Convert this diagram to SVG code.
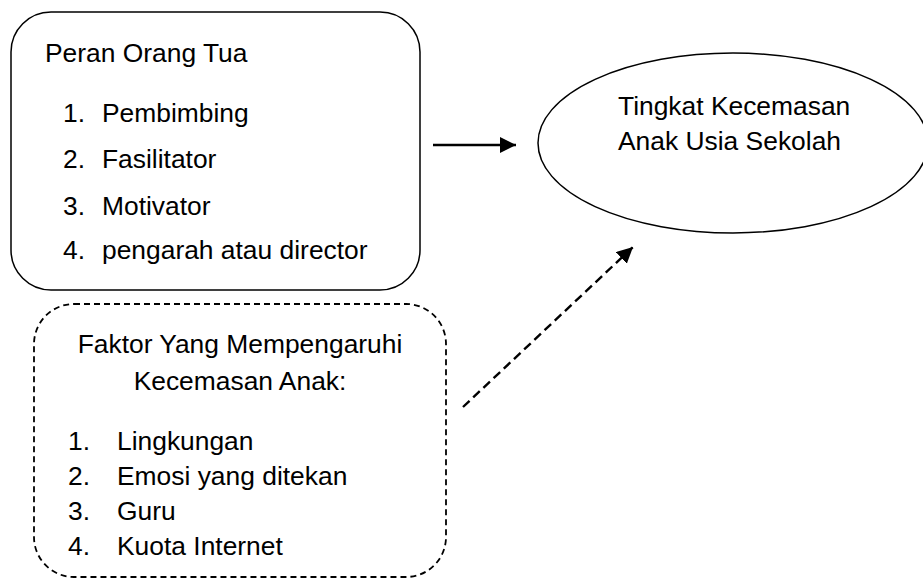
<svg xmlns="http://www.w3.org/2000/svg" width="923" height="579" viewBox="0 0 923 579">
<style>
text{font-family:"Liberation Sans",Arial,sans-serif;font-size:26.4px;fill:#000}
.shape{fill:#fff;stroke:#000;stroke-width:1.5}
.dash{stroke-width:1.8;stroke-dasharray:6 4}
.conn{stroke:#000;stroke-width:2.4;fill:none}
</style>
<defs>
<marker id="ah" markerWidth="18" markerHeight="18" refX="16" refY="8" orient="auto" markerUnits="userSpaceOnUse">
<path d="M0,0 L16,8 L0,16 Z" fill="#000"/>
</marker>
</defs>
<rect width="923" height="579" fill="#fff"/>
<g id="peran">
<rect class="shape" x="11" y="12" width="409" height="278" rx="40" ry="40"/>
<text x="45" y="62">Peran Orang Tua</text>
<text x="63" y="122">1.</text><text x="102" y="122">Pembimbing</text>
<text x="63" y="168">2.</text><text x="102" y="168">Fasilitator</text>
<text x="63" y="215">3.</text><text x="102" y="215">Motivator</text>
<text x="63" y="259">4.</text><text x="102" y="259">pengarah atau director</text>
</g>
<g id="faktor">
<rect class="shape dash" x="34" y="304" width="412" height="273" rx="40" ry="40"/>
<text x="240" y="353" text-anchor="middle">Faktor Yang Mempengaruhi</text>
<text x="240" y="390" text-anchor="middle">Kecemasan Anak:</text>
<text x="68" y="450">1.</text><text x="117" y="450">Lingkungan</text>
<text x="68" y="485">2.</text><text x="117" y="485">Emosi yang ditekan</text>
<text x="68" y="520">3.</text><text x="117" y="520">Guru</text>
<text x="68" y="555">4.</text><text x="117" y="555">Kuota Internet</text>
</g>
<g id="tingkat">
<ellipse class="shape" cx="733" cy="143" rx="195" ry="90"/>
<text x="618" y="115">Tingkat Kecemasan</text>
<text x="618" y="150">Anak Usia Sekolah</text>
</g>
<g id="connectors">
<line class="conn" x1="433" y1="145" x2="516" y2="145" marker-end="url(#ah)"/>
<line class="conn" x1="463" y1="407" x2="633" y2="247" stroke-dasharray="9 5" marker-end="url(#ah)"/>
</g>
</svg>
